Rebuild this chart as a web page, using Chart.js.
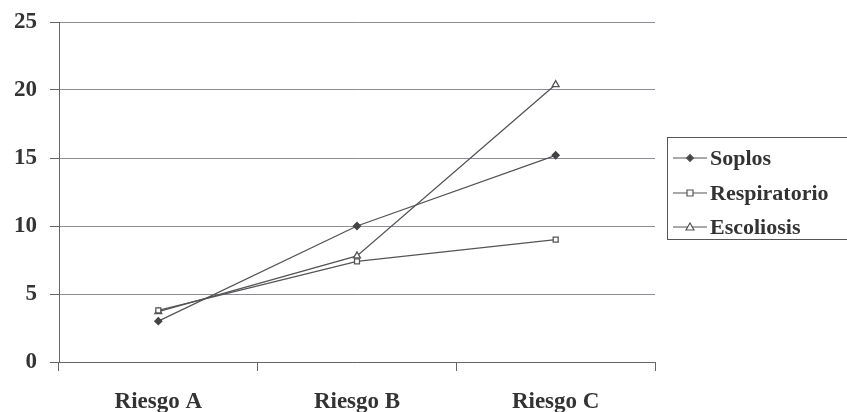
<!DOCTYPE html>
<html><head><meta charset="utf-8">
<script src="https://cdn.jsdelivr.net/npm/chart.js@4/dist/chart.umd.min.js"></script>
<style>html,body{margin:0;padding:0;background:#fff;}#wrap{width:847px;height:412px;}</style>
</head><body><div id="wrap"><canvas id="c" width="847" height="412"></canvas></div>
<script>
const categories = ['Riesgo A', 'Riesgo B', 'Riesgo C'];
const soplos = [3, 10, 15.2];
const respiratorio = [3.8, 7.4, 9];
const escoliosis = [3.7, 7.8, 20.4];
const yTicks = [0, 5, 10, 15, 20, 25];
const seriesNames = ['Soplos', 'Respiratorio', 'Escoliosis'];

const FONT = "'Liberation Serif', 'DejaVu Serif', serif";
const lineColor = '#555555';

const legendPlugin = {
  id: 'excelLegend',
  afterDraw(chart) {
    const ctx = chart.ctx;
    ctx.save();
    ctx.strokeStyle = '#555';
    ctx.lineWidth = 1;
    ctx.strokeRect(667.5, 137.5, 200, 102);
    const rows = [158, 193, 227];
    chart.data.datasets.forEach((ds, i) => {
      const y = rows[i];
      ctx.strokeStyle = lineColor;
      ctx.lineWidth = 1.2;
      ctx.beginPath(); ctx.moveTo(673, y); ctx.lineTo(707, y); ctx.stroke();
      ctx.fillStyle = ds.pointBackgroundColor;
      ctx.strokeStyle = lineColor;
      ctx.beginPath();
      if (ds.pointStyle === 'rectRot') {
        ctx.moveTo(690, y - 3.5); ctx.lineTo(693.5, y); ctx.lineTo(690, y + 3.5); ctx.lineTo(686.5, y); ctx.closePath();
      } else if (ds.pointStyle === 'rect') {
        ctx.rect(687, y - 3, 6, 6);
      } else {
        ctx.moveTo(690, y - 4); ctx.lineTo(694, y + 3); ctx.lineTo(686, y + 3); ctx.closePath();
      }
      ctx.fill(); ctx.stroke();
      ctx.fillStyle = '#333';
      ctx.font = 'bold 22px ' + FONT;
      ctx.textBaseline = 'middle';
      ctx.textAlign = 'left';
      ctx.fillText(ds.label, 710, y + 1);
    });
    ctx.restore();
  }
};

new Chart(document.getElementById('c'), {
  type: 'line',
  data: {
    labels: categories,
    datasets: [
      { label: seriesNames[0], data: soplos, borderColor: lineColor, borderWidth: 1.3,
        pointStyle: 'rectRot', pointRadius: 3.5, pointBackgroundColor: '#444', pointBorderColor: '#444', tension: 0 },
      { label: seriesNames[1], data: respiratorio, borderColor: lineColor, borderWidth: 1.3,
        pointStyle: 'rect', pointRadius: 3.5, pointBackgroundColor: '#fff', pointBorderColor: '#555', tension: 0 },
      { label: seriesNames[2], data: escoliosis, borderColor: lineColor, borderWidth: 1.3,
        pointStyle: 'triangle', pointRadius: 4, pointBackgroundColor: '#fff', pointBorderColor: '#555', tension: 0 }
    ]
  },
  options: {
    responsive: false,
    animation: false,
    layout: { padding: { left: 0, right: 192, top: 22, bottom: 0 } },
    plugins: { legend: { display: false }, tooltip: { enabled: false } },
    scales: {
      x: {
        offset: true,
        grid: { offset: true, drawOnChartArea: false, drawTicks: true, tickLength: 9, color: '#666', tickColor: '#666' },
        border: { color: '#666', width: 1 },
        ticks: { font: { family: FONT, size: 23, weight: 'bold' }, color: '#333', padding: 17 },
        afterFit(s) { s.height = 50; s.paddingLeft = 0; s.paddingRight = 0; }
      },
      y: {
        min: 0, max: 25,
        afterBuildTicks(s) { s.ticks = yTicks.map(v => ({ value: v })); },
        grid: { color: '#8a8c98', tickLength: 9, tickColor: '#666', lineWidth: 1 },
        border: { color: '#666', width: 1 },
        ticks: { font: { family: FONT, size: 23, weight: 'bold' }, color: '#333', padding: 13 },
        afterFit(s) { s.width = 59; s.paddingTop = 0; s.paddingBottom = 0; }
      }
    }
  },
  plugins: [legendPlugin]
});
</script>
</body></html>
